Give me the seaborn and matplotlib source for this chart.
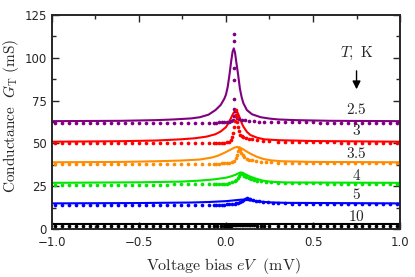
import numpy as np
import pandas as pd
import matplotlib
matplotlib.use("Agg")
import matplotlib.pyplot as plt
from matplotlib.ticker import MultipleLocator
import seaborn as sns

# temperature labels and colours
temps = ["2.5", "3", "3.5", "4", "5", "10"]
colors = ["#800080", "#ff0000", "#ff8c00", "#00e600", "#0000ff", "#000000"]
label_y = [69.8, 57.5, 44.0, 31.2, 20.0, 7.4]

# coarse voltage grid for the measured points (flat wings)
x_left = [-0.98, -0.94, -0.90, -0.86, -0.82, -0.78, -0.74, -0.70, -0.66, -0.62, -0.58, -0.54,
          -0.50, -0.46, -0.42, -0.38, -0.34, -0.30, -0.26, -0.22, -0.18, -0.14, -0.10]
x_right = [0.30, 0.34, 0.38, 0.42, 0.46, 0.50, 0.54, 0.58, 0.62, 0.66, 0.70, 0.74,
           0.78, 0.82, 0.86, 0.90, 0.94, 0.98]

# measured points: left wing, peak region, right wing
dots_left = [
    [61.7, 61.7, 61.7, 61.7, 61.7, 61.7, 61.7, 61.7, 61.7, 61.7, 61.7, 61.7, 61.7, 61.7, 61.7, 61.8, 61.8, 61.8, 61.9, 61.9, 62.0, 62.0, 62.1],
    [50.0, 50.0, 50.0, 50.0, 50.0, 50.0, 50.0, 50.0, 50.0, 50.0, 50.0, 50.0, 50.0, 50.0, 50.0, 50.0, 50.0, 50.0, 50.1, 50.1, 50.1, 50.1, 50.2],
    [37.9, 37.9, 37.9, 37.9, 37.9, 37.9, 37.9, 37.9, 37.9, 37.9, 37.9, 37.9, 37.9, 37.9, 37.9, 37.9, 38.0, 38.0, 38.0, 38.0, 38.0, 38.1, 38.1],
    [26.0, 26.0, 26.0, 26.0, 26.0, 26.0, 26.0, 26.0, 26.0, 26.0, 26.0, 26.0, 26.0, 26.0, 26.0, 26.0, 26.0, 26.1, 26.1, 26.1, 26.1, 26.1, 26.2],
    [13.9, 13.9, 13.9, 13.9, 13.9, 13.9, 13.9, 13.9, 13.9, 13.9, 13.9, 13.9, 13.9, 13.9, 13.9, 13.9, 13.9, 14.0, 14.0, 14.0, 14.0, 14.0, 14.1],
    [1.8, 1.8, 1.8, 1.8, 1.8, 1.8, 1.8, 1.8, 1.8, 1.8, 1.8, 1.8, 1.8, 1.8, 1.8, 1.8, 1.8, 1.8, 1.8, 1.8, 1.8, 1.8, 1.8],
]
dots_right = [
    [62.4, 62.4, 62.3, 62.3, 62.3, 62.3, 62.2, 62.2, 62.2, 62.2, 62.2, 62.2, 62.2, 62.2, 62.2, 62.2, 62.2, 62.2],
    [51.0, 50.9, 50.8, 50.8, 50.7, 50.7, 50.6, 50.6, 50.6, 50.5, 50.5, 50.5, 50.5, 50.5, 50.5, 50.5, 50.5, 50.5],
    [38.7, 38.6, 38.6, 38.5, 38.5, 38.4, 38.4, 38.4, 38.3, 38.3, 38.3, 38.3, 38.3, 38.3, 38.3, 38.3, 38.3, 38.3],
    [26.9, 26.9, 26.8, 26.8, 26.7, 26.7, 26.7, 26.6, 26.6, 26.6, 26.6, 26.6, 26.6, 26.6, 26.6, 26.6, 26.6, 26.6],
    [15.1, 15.0, 14.9, 14.9, 14.8, 14.8, 14.7, 14.7, 14.7, 14.6, 14.6, 14.6, 14.6, 14.6, 14.6, 14.6, 14.6, 14.6],
    [1.9, 1.9, 1.9, 1.9, 1.9, 1.9, 1.9, 1.9, 1.9, 1.9, 1.9, 1.9, 1.9, 1.9, 1.9, 1.9, 1.9, 1.9],
]
peak_x = [
    [-0.07, -0.055, -0.04, -0.025, -0.01, 0.005, 0.02, 0.03, 0.038, 0.044, 0.045, 0.046, 0.045, 0.044, 0.046,
     0.045, 0.05, 0.056, 0.065, 0.075, 0.09, 0.11, 0.13, 0.16, 0.19, 0.22, 0.26],
    [-0.07, -0.055, -0.04, -0.025, -0.01, 0.005, 0.02, 0.03, 0.036, 0.042, 0.047, 0.052, 0.056, 0.06, 0.063,
     0.066, 0.07, 0.075, 0.082, 0.09, 0.1, 0.115, 0.13, 0.15, 0.18, 0.21, 0.25],
    [-0.07, -0.055, -0.04, -0.025, -0.01, 0.005, 0.02, 0.035, 0.045, 0.055, 0.062, 0.068, 0.074, 0.08, 0.087,
     0.095, 0.105, 0.12, 0.135, 0.15, 0.17, 0.2, 0.23, 0.26],
    [-0.07, -0.055, -0.04, -0.025, -0.01, 0.005, 0.02, 0.035, 0.05, 0.06, 0.068, 0.076, 0.083, 0.09, 0.097,
     0.105, 0.115, 0.13, 0.145, 0.16, 0.18, 0.2, 0.23, 0.26],
    [-0.07, -0.055, -0.04, -0.025, -0.01, 0.005, 0.02, 0.035, 0.05, 0.06, 0.07, 0.08, 0.09, 0.1, 0.11,
     0.12, 0.13, 0.14, 0.155, 0.17, 0.19, 0.21, 0.24, 0.27],
    [-0.07, -0.05, -0.03, -0.01, 0.0, 0.01, 0.02, 0.03, 0.04, 0.05, 0.06, 0.07, 0.08, 0.09, 0.1,
     0.11, 0.12, 0.13, 0.14, 0.15, 0.16, 0.18, 0.2, 0.22, 0.25],
]
peak_y = [
    [62.2, 62.2, 62.3, 62.3, 62.4, 62.5, 62.7, 63.0, 63.5, 66.0, 70.0, 76.0, 87.0, 94.0, 110.0,
     114.0, 69.0, 66.5, 65.0, 64.3, 63.8, 63.4, 63.1, 62.9, 62.7, 62.6, 62.5],
    [50.2, 50.2, 50.3, 50.4, 50.5, 50.7, 51.0, 51.8, 53.5, 56.0, 59.5, 63.0, 66.5, 69.5, 65.5,
     62.5, 59.5, 57.0, 55.2, 54.2, 53.5, 53.0, 52.6, 52.3, 52.0, 51.7, 51.4],
    [38.1, 38.2, 38.2, 38.3, 38.4, 38.5, 38.7, 39.0, 39.8, 41.5, 43.5, 45.5, 47.3, 46.0, 44.5,
     43.2, 42.2, 41.2, 40.6, 40.2, 39.8, 39.4, 39.1, 38.9],
    [26.2, 26.2, 26.3, 26.4, 26.5, 26.6, 26.8, 27.2, 27.9, 28.8, 29.9, 31.0, 32.2, 32.8, 32.0,
     31.2, 30.5, 29.8, 29.2, 28.7, 28.2, 27.9, 27.5, 27.2],
    [14.1, 14.1, 14.2, 14.2, 14.3, 14.4, 14.5, 14.6, 14.8, 15.0, 15.4, 15.9, 16.5, 17.1, 17.6,
     17.9, 17.7, 17.3, 16.9, 16.6, 16.3, 16.0, 15.7, 15.4],
    [1.9, 1.9, 1.9, 1.9, 2.0, 2.0, 2.0, 2.0, 2.1, 2.1, 2.1, 2.2, 2.2, 2.2, 2.2,
     2.2, 2.2, 2.1, 2.1, 2.1, 2.1, 2.0, 2.0, 2.0, 2.0],
]

# fitted curves
fit_x = [
    [-1.0, -0.6, -0.4, -0.3, -0.2, -0.15, -0.1, -0.06, -0.03, -0.01, 0.0, 0.01, 0.02, 0.03, 0.038, 0.045,
     0.052, 0.06, 0.07, 0.08, 0.09, 0.1, 0.12, 0.15, 0.2, 0.25, 0.3, 0.4, 0.6, 1.0],
    [-1.0, -0.6, -0.4, -0.26, -0.18, -0.11, -0.06, -0.03, 0.0, 0.013, 0.03, 0.042, 0.057, 0.067, 0.077,
     0.09, 0.1, 0.12, 0.14, 0.18, 0.22, 0.3, 0.5, 1.0],
    [-1.0, -0.6, -0.4, -0.26, -0.15, -0.08, -0.05, -0.02, 0.0, 0.023, 0.045, 0.065, 0.08, 0.1, 0.12,
     0.15, 0.18, 0.22, 0.26, 0.32, 0.5, 1.0],
    [-1.0, -0.5, -0.26, -0.15, -0.07, 0.0, 0.023, 0.05, 0.07, 0.084, 0.1, 0.12, 0.14, 0.17, 0.21,
     0.26, 0.35, 1.0],
    [-1.0, -0.5, -0.2, -0.1, 0.0, 0.05, 0.09, 0.12, 0.15, 0.2, 0.25, 0.35, 1.0],
    [-1.0, 1.0],
]
fit_y = [
    [63.0, 63.2, 63.6, 64.0, 64.6, 65.3, 66.8, 69.5, 72.5, 76.0, 78.5, 83.0, 90.0, 98.0, 103.5, 105.5,
     103.0, 97.0, 90.0, 82.0, 77.0, 73.5, 69.5, 67.0, 65.3, 64.5, 64.0, 63.6, 63.2, 63.0],
    [51.0, 51.3, 51.7, 52.4, 53.0, 54.0, 55.4, 57.0, 59.5, 61.7, 65.0, 67.6, 69.0, 68.0, 65.6,
     62.0, 59.8, 56.8, 54.9, 53.3, 52.4, 51.9, 51.4, 51.0],
    [39.0, 39.2, 39.6, 40.0, 40.6, 41.8, 42.7, 44.0, 45.0, 46.2, 47.4, 48.0, 47.6, 46.5, 45.2,
     43.5, 42.1, 40.8, 40.1, 39.6, 39.2, 39.0],
    [27.0, 27.3, 27.7, 28.3, 29.0, 30.0, 30.6, 31.5, 32.5, 33.1, 32.5, 31.6, 30.6, 29.5, 28.3,
     27.6, 27.2, 27.0],
    [15.0, 15.2, 15.5, 15.8, 16.3, 16.8, 17.2, 17.0, 16.6, 16.0, 15.6, 15.3, 15.0],
    [2.9, 2.9],
]

sns.set_style("ticks")
plt.rcParams["mathtext.fontset"] = "cm"
plt.rcParams["font.family"] = ["DejaVu Sans"]
plt.rcParams["xtick.direction"] = "in"
plt.rcParams["ytick.direction"] = "in"

fig, ax = plt.subplots(figsize=(4.15, 2.77), dpi=100)
fig.subplots_adjust(left=0.125, right=0.964, top=0.946, bottom=0.173)

for i in range(len(temps)):
    fit = pd.DataFrame({"V": fit_x[i], "G": fit_y[i]})
    sns.lineplot(data=fit, x="V", y="G", ax=ax, color=colors[i], linewidth=1.5, sort=False, zorder=2)
    dx = x_left + peak_x[i] + x_right
    dy = dots_left[i] + peak_y[i] + dots_right[i]
    pts = pd.DataFrame({"V": dx, "G": dy})
    sns.scatterplot(data=pts, x="V", y="G", ax=ax, color=colors[i], s=7, linewidth=0, zorder=3)
    ax.text(0.75, label_y[i], "$" + temps[i] + "$", ha="center", va="center", fontsize=11)

ax.text(0.75, 102.6, r"$T,\ \mathrm{K}$", ha="center", va="center", fontsize=11)
ax.annotate("", xy=(0.75, 80.0), xytext=(0.75, 94.0),
            arrowprops=dict(arrowstyle="-|>", color="black", lw=1.0, mutation_scale=12))

ax.set_xlim(-1.0, 1.0)
ax.set_ylim(0, 125)
ax.xaxis.set_major_locator(MultipleLocator(0.5))
ax.xaxis.set_minor_locator(MultipleLocator(0.25))
ax.yaxis.set_major_locator(MultipleLocator(25))
ax.yaxis.set_minor_locator(MultipleLocator(12.5))
ax.tick_params(which="both", top=True, right=True, labelsize=8.5, width=1.0)
ax.tick_params(which="major", length=5)
ax.tick_params(which="minor", length=3)
ax.tick_params(axis="x", pad=5)
for sp in ax.spines.values():
    sp.set_linewidth(1.4)

ax.set_xlabel(r"$\mathrm{Voltage\ bias}\ eV\ \ \mathrm{(mV)}$", fontsize=11.5)
ax.set_ylabel(r"$\mathrm{Conductance}\ \ G_\mathrm{T}\ \mathrm{(mS)}$", fontsize=11)
ax.xaxis.set_label_coords(0.494, -0.125)
ax.yaxis.set_label_coords(-0.088, 0.53)

fig.savefig("out.png", dpi=100)
